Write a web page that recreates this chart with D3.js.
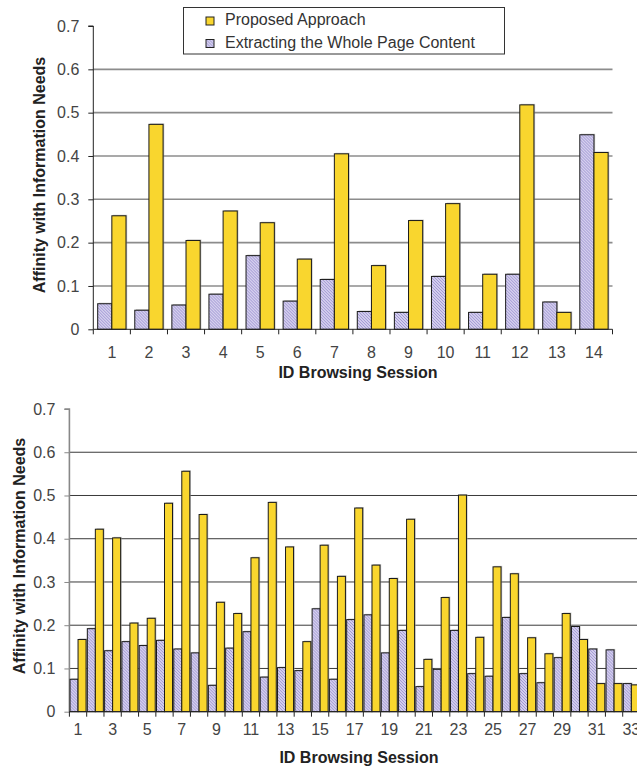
<!DOCTYPE html>
<html><head><meta charset="utf-8">
<script src="https://cdn.jsdelivr.net/npm/d3@7/dist/d3.min.js"></script>
<style>body{margin:0;background:#fff;} svg{display:block;font-family:"Liberation Sans",Arial,sans-serif;}</style>
</head><body>
<svg id="c" width="637" height="772"></svg>
<script>
// ---- data ----
const seriesNames = ["Extracting the Whole Page Content", "Proposed Approach"];
const legendOrder = ["Proposed Approach", "Extracting the Whole Page Content"];
const yTicks = [0, 0.1, 0.2, 0.3, 0.4, 0.5, 0.6, 0.7];
const yTickLabels = ["0", "0.1", "0.2", "0.3", "0.4", "0.5", "0.6", "0.7"];
const xTitle = "ID Browsing Session";
const yTitle = "Affinity with Information Needs";

const topSessions = [1,2,3,4,5,6,7,8,9,10,11,12,13,14];
const topWhole    = [0.059,0.044,0.056,0.081,0.170,0.065,0.115,0.041,0.039,0.122,0.039,0.127,0.063,0.449];
const topProposed = [0.262,0.473,0.205,0.273,0.246,0.162,0.405,0.147,0.251,0.290,0.127,0.518,0.039,0.408];

const botSessions = d3.range(1, 34);
const botWhole    = [0.075,0.192,0.141,0.162,0.153,0.165,0.145,0.136,0.061,0.147,0.185,0.080,0.102,0.095,0.238,0.075,0.213,0.224,0.136,0.188,0.058,0.098,0.188,0.088,0.082,0.218,0.088,0.067,0.125,0.197,0.145,0.143,0.065];
const botProposed = [0.167,0.422,0.402,0.205,0.216,0.482,0.556,0.456,0.253,0.227,0.356,0.484,0.381,0.162,0.385,0.313,0.471,0.339,0.308,0.445,0.121,0.264,0.501,0.172,0.335,0.319,0.171,0.134,0.227,0.167,0.065,0.065,0.062];
const botTickLabels = botSessions.filter(d => d % 2 === 1);

// ---- drawing ----
const svg = d3.select("#c");
const YELLOW = "#f9d62e";
const defs = svg.append("defs");
const pat = defs.append("pattern").attr("id","hatch").attr("patternUnits","userSpaceOnUse")
  .attr("width",3).attr("height",3);
pat.append("rect").attr("width",3).attr("height",3).attr("fill","#ebe8f8");
pat.append("path").attr("d","M-1,-1L4,4M-1,2L1,4M2,-1L4,1").attr("stroke","#9c92d2").attr("stroke-width",1.1);
const fills = {"Extracting the Whole Page Content":"url(#hatch)", "Proposed Approach":YELLOW};

function drawChart(cfg){
  const g = svg.append("g");
  const y = d3.scaleLinear().domain([0,0.7]).range([cfg.y0, cfg.y1]);
  const x0 = d3.scaleBand().domain(cfg.sessions).range([cfg.left, cfg.right]).padding(0);
  const x1 = d3.scaleBand().domain(seriesNames).range([0, x0.bandwidth()]).paddingInner(0).paddingOuter(cfg.pad);
  // gridlines
  g.append("g").selectAll("line").data(yTicks.filter(v => v > 0 && v < 0.7)).join("line")
    .attr("x1", cfg.left).attr("x2", cfg.gridRight)
    .attr("y1", d => y(d)).attr("y2", d => y(d))
    .attr("stroke", cfg.gridColor).attr("stroke-width", cfg.gridWidth);
  // y axis
  const ya = d3.axisLeft(y).tickValues(yTicks).tickFormat((d,i) => yTickLabels[i]).tickSize(5).tickPadding(9);
  const yg = g.append("g").attr("transform",`translate(${cfg.left},0)`).call(ya);
  yg.select(".domain").attr("stroke", cfg.axisColor).attr("stroke-width", cfg.axisWidth).attr("d", `M-5,${y(0.7)}H0V${y(0)}`);
  yg.selectAll(".tick line").attr("stroke", cfg.axisColor);
  yg.selectAll("text").attr("font-size",16).attr("fill","#444").attr("font-family","Liberation Sans, Arial, sans-serif");
  // bars
  const rows = cfg.sessions.map((s,i) => ({s, vals:[
    {k:seriesNames[0], v:cfg.whole[i]}, {k:seriesNames[1], v:cfg.proposed[i]}]}));
  const bg = g.append("g").selectAll("g").data(rows).join("g")
    .attr("transform", d => `translate(${x0(d.s)},0)`);
  bg.selectAll("rect.sh").data(d => d.vals).join("rect").attr("class","sh")
    .attr("x", d => x1(d.k) + 1.2).attr("y", d => y(d.v) - 1)
    .attr("width", x1.bandwidth()).attr("height", d => y(0) - y(d.v) + 1)
    .attr("fill","#a0a0a0").attr("opacity",0.6);
  bg.selectAll("rect.b").data(d => d.vals).join("rect").attr("class","b")
    .attr("x", d => x1(d.k)).attr("y", d => y(d.v))
    .attr("width", x1.bandwidth()).attr("height", d => y(0) - y(d.v))
    .attr("fill", d => fills[d.k]).attr("stroke","#1a1a1a").attr("stroke-width",1);
  // x axis
  const xa = g.append("g");
  xa.append("line").attr("x1",cfg.left).attr("x2",Math.min(cfg.right,637)).attr("y1",y(0)).attr("y2",y(0))
    .attr("stroke","#222").attr("stroke-width",1);
  const bounds = cfg.sessions.map(s => x0(s) + x0.bandwidth());
  xa.selectAll("line.t").data([cfg.left].concat(bounds)).join("line").attr("class","t")
    .attr("x1", d => d).attr("x2", d => d).attr("y1", y(0)).attr("y2", y(0) + 5)
    .attr("stroke","#222");
  xa.selectAll("text").data(cfg.labels).join("text")
    .attr("x", d => x0(d) + x0.bandwidth()/2).attr("y", cfg.labelY)
    .attr("text-anchor","middle").attr("font-size",16).attr("fill","#444").text(d => d);
  // titles
  g.append("text").attr("x", cfg.xTitleX).attr("y", cfg.xTitleY).attr("text-anchor","middle")
    .attr("font-size",16).attr("font-weight","bold").attr("fill","#222").text(xTitle);
  g.append("text").attr("transform",`translate(${cfg.yTitleX},${cfg.yTitleY}) rotate(-90)`)
    .attr("text-anchor","middle").attr("font-size",16).attr("font-weight","bold").attr("fill","#222").text(yTitle);
}

drawChart({sessions: topSessions, whole: topWhole, proposed: topProposed, labels: topSessions,
  left: 93.3, right: 612.5, gridRight: 612.5, y0: 329.3, y1: 26, pad: 0.31,
  gridColor: "#8c8c8c", gridWidth: 1.6, axisColor: "#222", axisWidth: 1,
  labelY: 358, xTitleX: 358, xTitleY: 378, yTitleX: 45, yTitleY: 175});

drawChart({sessions: botSessions, whole: botWhole, proposed: botProposed, labels: botTickLabels,
  left: 69.4, right: 640, gridRight: 637, y0: 711.7, y1: 409, pad: 0.08,
  gridColor: "#3a3a3a", gridWidth: 1, axisColor: "#888", axisWidth: 1.6,
  labelY: 735, xTitleX: 359, xTitleY: 763, yTitleX: 25, yTitleY: 556});

// legend
const lg = svg.append("g");
lg.append("rect").attr("x",183.5).attr("y",7.5).attr("width",321).attr("height",46.5)
  .attr("fill","#fff").attr("stroke","#333").attr("stroke-width",1);
const li = lg.selectAll("g").data(legendOrder).join("g")
  .attr("transform", (d,i) => `translate(206,${17 + i*22.5})`);
li.append("rect").attr("width",8).attr("height",8).attr("fill", d => fills[d]).attr("stroke","#222");
li.append("text").attr("x",19).attr("y",8).attr("font-size",16).attr("fill","#333").text(d => d);
</script>
</body></html>
